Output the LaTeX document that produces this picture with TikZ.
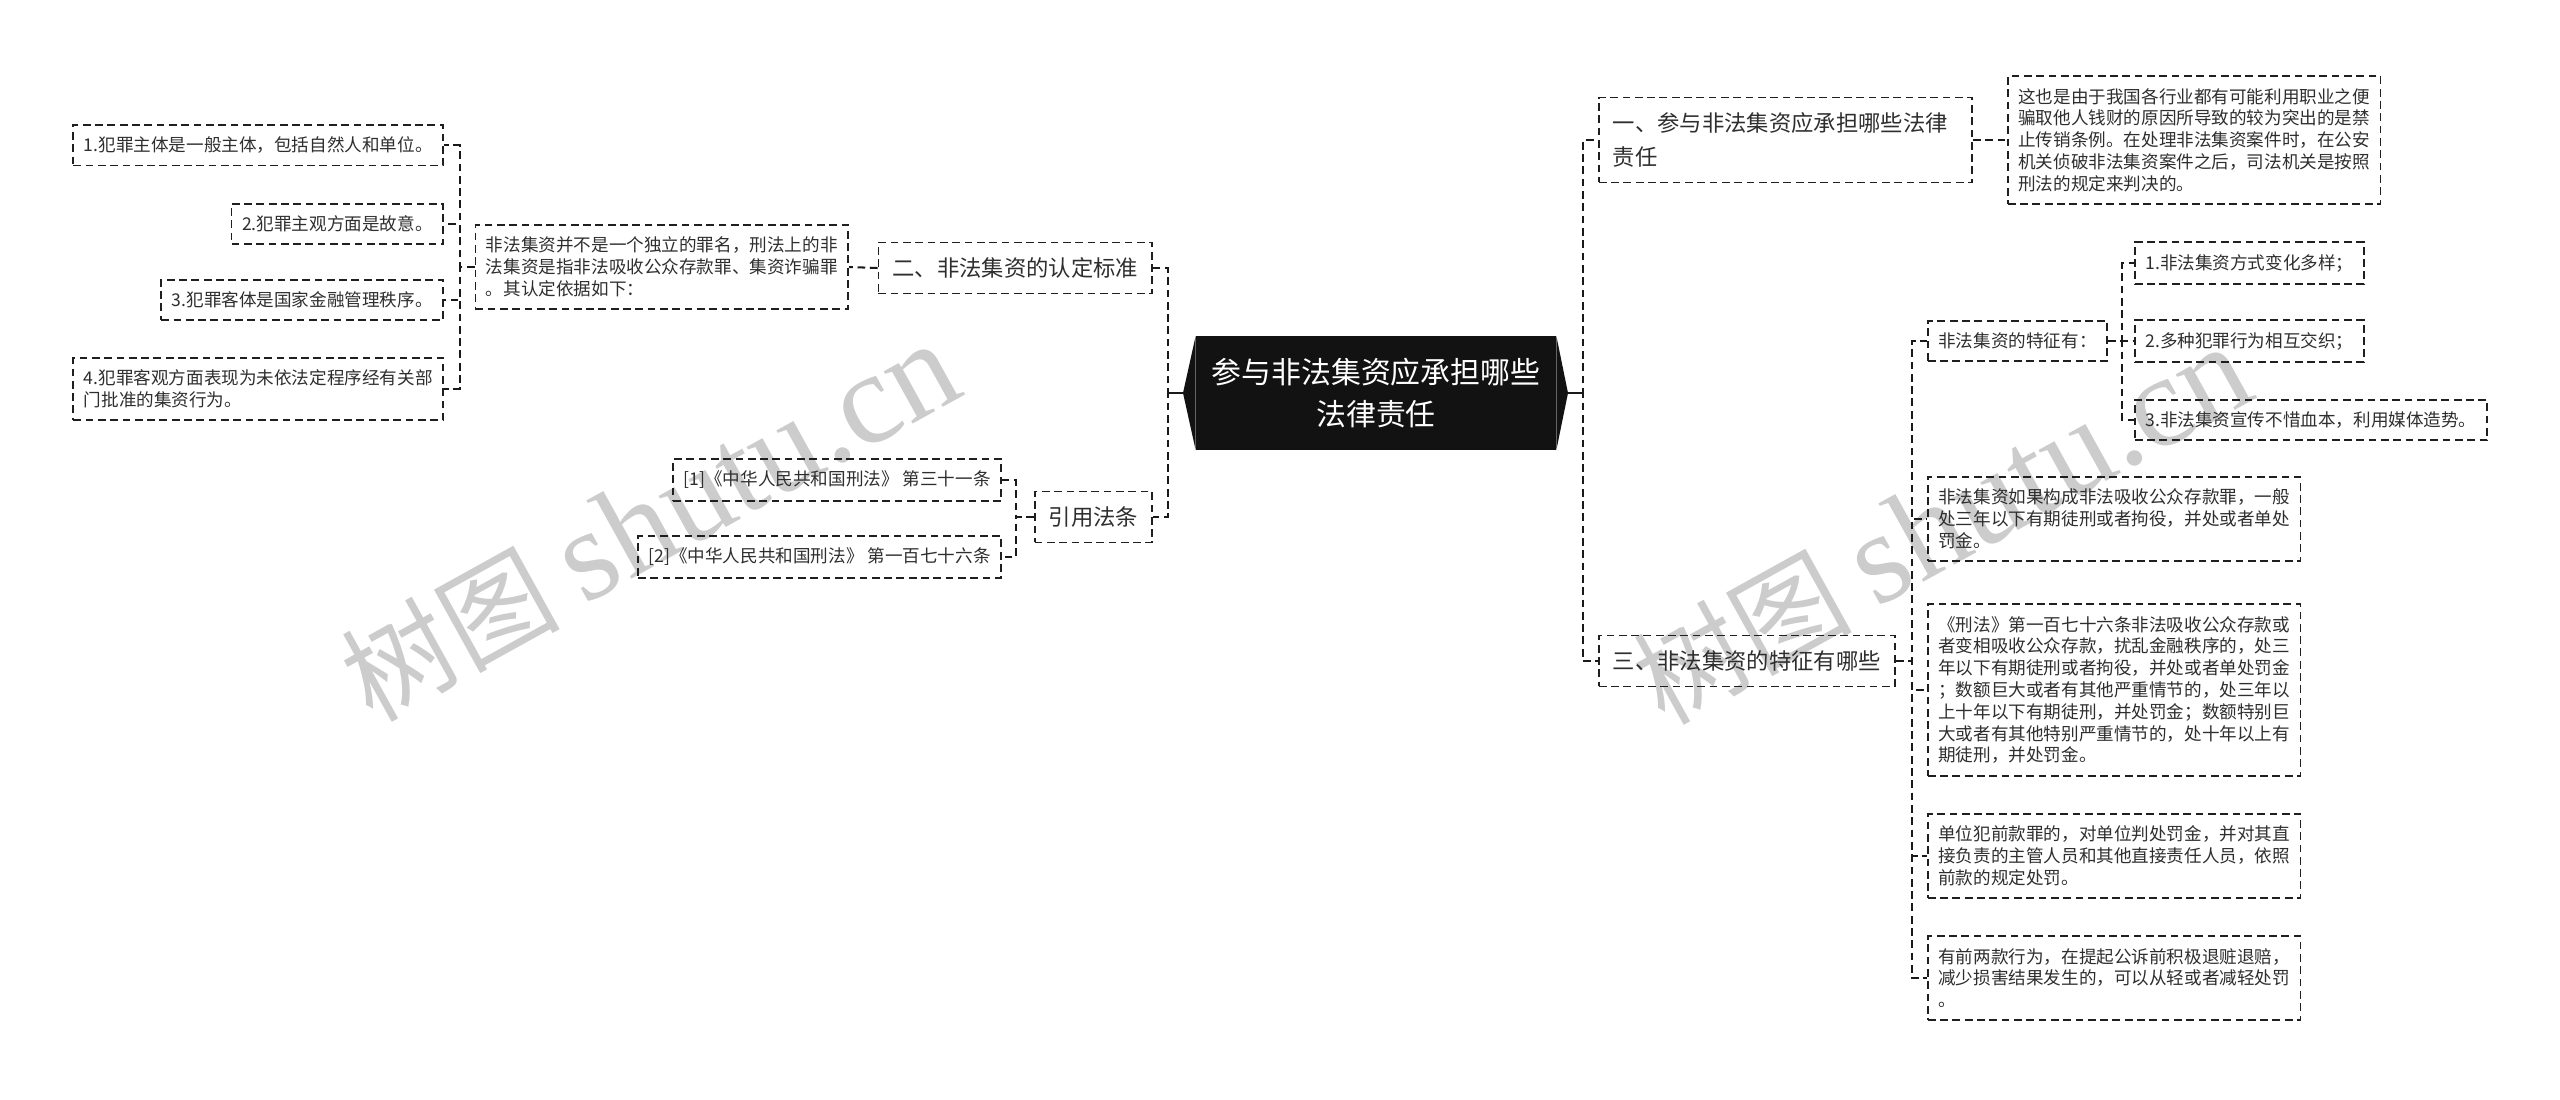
\documentclass[tikz,border=0pt]{standalone}
\usepackage{fontspec}
\setmainfont{Noto Sans CJK SC}
\newfontfamily\wmfont{Liberation Serif}

\begin{document}
\begin{tikzpicture}[x=0.01cm, y=-0.01cm,
  box/.style={draw=black!88, line width=0.48pt, dash pattern=on 2.2pt off 1.3pt, text=black!82, align=left},
  leaf/.style={box, font=\fontsize{5}{6.2}\selectfont, inner xsep=3pt, inner ysep=3.4pt},
  topic/.style={box, font=\fontsize{6.35}{9.6}\selectfont, inner xsep=4pt, inner ysep=4.3pt},
  link/.style={draw=black!90, line width=0.58pt, dash pattern=on 2.2pt off 1.3pt},
  elbow/.style={to path={-- ++(#1,0) |- (\tikztotarget)}},
  wm/.style={text=black!20, font=\fontsize{31}{31}\selectfont, rotate=29, inner sep=0pt}
]
\useasboundingbox (0,0) rectangle (2560,1099);

\node[wm] (w1) at (650,522) {树图 {\wmfont\fontsize{37}{37}\selectfont shutu.cn}};
\node[wm] (w2) at (1942,525) {树图 {\wmfont\fontsize{37}{37}\selectfont shutu.cn}};

\node[fill=black!93, text=white, minimum width=3.59cm, minimum height=1.13cm, inner sep=0pt,
  align=center, font=\fontsize{8.5}{12}\selectfont] (M) at (1376,393) {参与非法集资应承担哪些\\法律责任};
\coordinate (Ml) at (1183,393);
\coordinate (Mr) at (1568,393);
\fill[black!93] (M.north west) -- (Ml) -- (M.south west) -- cycle;
\fill[black!93] (M.north east) -- (Mr) -- (M.south east) -- cycle;

\node[topic, anchor=east] (A) at (1153,268) {二、非法集资的认定标准};
\node[topic, anchor=east] (B) at (1153,517) {引用法条};
\node[leaf, anchor=east] (A') at (849,267) {非法集资并不是一个独立的罪名，刑法上的非\\法集资是指非法吸收公众存款罪、集资诈骗罪\\。其认定依据如下：};
\node[leaf, anchor=east] (a1) at (444,145) {1.犯罪主体是一般主体，包括自然人和单位。};
\node[leaf, anchor=east] (a2) at (444,224) {2.犯罪主观方面是故意。};
\node[leaf, anchor=east] (a3) at (444,300) {3.犯罪客体是国家金融管理秩序。};
\node[leaf, anchor=east] (a4) at (444,389) {4.犯罪客观方面表现为未依法定程序经有关部\\门批准的集资行为。};
\node[leaf, anchor=east] (b1) at (1002,480) {[1]《中华人民共和国刑法》 第三十一条};
\node[leaf, anchor=east] (b2) at (1002,557) {[2]《中华人民共和国刑法》 第一百七十六条};

\node[topic, anchor=west, text width=3.45cm] (C) at (1598,140) {一、参与非法集资应承担哪些法律\\责任};
\node[leaf, anchor=west] (C') at (2007,140) {这也是由于我国各行业都有可能利用职业之便\\骗取他人钱财的原因所导致的较为突出的是禁\\止传销条例。在处理非法集资案件时，在公安\\机关侦破非法集资案件之后，司法机关是按照\\刑法的规定来判决的。};
\node[topic, anchor=west] (D) at (1598,661) {三、非法集资的特征有哪些};
\node[leaf, anchor=west] (d0) at (1927,341) {非法集资的特征有：};
\node[leaf, anchor=west] (d1) at (1927,519) {非法集资如果构成非法吸收公众存款罪，一般\\处三年以下有期徒刑或者拘役，并处或者单处\\罚金。};
\node[leaf, anchor=west] (d2) at (1927,690) {《刑法》第一百七十六条非法吸收公众存款或\\者变相吸收公众存款，扰乱金融秩序的，处三\\年以下有期徒刑或者拘役，并处或者单处罚金\\；数额巨大或者有其他严重情节的，处三年以\\上十年以下有期徒刑，并处罚金；数额特别巨\\大或者有其他特别严重情节的，处十年以上有\\期徒刑，并处罚金。};
\node[leaf, anchor=west] (d3) at (1927,856) {单位犯前款罪的，对单位判处罚金，并对其直\\接负责的主管人员和其他直接责任人员，依照\\前款的规定处罚。};
\node[leaf, anchor=west] (d4) at (1927,978) {有前两款行为，在提起公诉前积极退赃退赔，\\减少损害结果发生的，可以从轻或者减轻处罚\\。};
\node[leaf, anchor=west] (e1) at (2134,263) {1.非法集资方式变化多样；};
\node[leaf, anchor=west] (e2) at (2134,341) {2.多种犯罪行为相互交织；};
\node[leaf, anchor=west] (e3) at (2134,420) {3.非法集资宣传不惜血本，利用媒体造势。};

\draw[black!90, line width=0.65pt] (Ml) -- ++(-15,0) (Mr) -- ++(15,0);
%
\path[link]
  (Ml) edge[elbow=-15] (A.east)
  (Ml) edge[elbow=-15] (B.east)
  (A.west) edge (A'.east)
  (A'.west) edge[elbow=-15] (a1.east)
  (A'.west) edge[elbow=-15] (a2.east)
  (A'.west) edge[elbow=-15] (a3.east)
  (A'.west) edge[elbow=-15] (a4.east)
  (B.west) edge[elbow=-18] (b1.east)
  (B.west) edge[elbow=-18] (b2.east)
  (Mr) edge[elbow=15] (C.west)
  (Mr) edge[elbow=15] (D.west)
  (C.east) edge (C'.west)
  (D.east) edge[elbow=16] (d0.west)
  (D.east) edge[elbow=16] (d1.west)
  (D.east) edge[elbow=16] (d2.west)
  (D.east) edge[elbow=16] (d3.west)
  (D.east) edge[elbow=16] (d4.west)
  (d0.east) edge[elbow=14] (e1.west)
  (d0.east) edge[elbow=14] (e2.west)
  (d0.east) edge[elbow=14] (e3.west);
\end{tikzpicture}
\end{document}
